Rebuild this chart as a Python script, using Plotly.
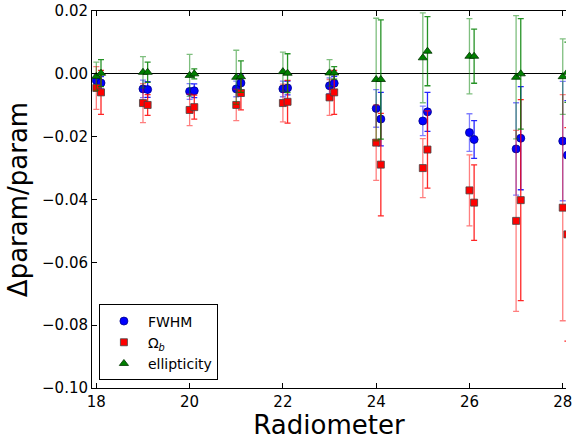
import plotly.graph_objects as go

radiometers = [18, 19, 20, 21, 22, 23, 24, 25, 26, 27, 28]
offset = 0.1

fwhm_main = [-0.0021, -0.0048, -0.0056, -0.0048, -0.0048, -0.0038, -0.0110, -0.0150, -0.0187, -0.0239, -0.0214]
fwhm_main_err = [0.0020, 0.0028, 0.0025, 0.0025, 0.0025, 0.0025, 0.0060, 0.0047, 0.0060, 0.0147, 0.0190]
fwhm_side = [-0.0029, -0.0050, -0.0054, -0.0029, -0.0045, -0.0030, -0.0144, -0.0121, -0.0209, -0.0205, -0.0259]
fwhm_side_err = [0.0020, 0.0025, 0.0022, 0.0025, 0.0022, 0.0022, 0.0085, 0.0062, 0.0060, 0.0164, 0.0174]

omega_main = [-0.0045, -0.0093, -0.0115, -0.0099, -0.0093, -0.0075, -0.0219, -0.0300, -0.0371, -0.0468, -0.0426]
omega_main_err = [0.0068, 0.0062, 0.0050, 0.0050, 0.0060, 0.0057, 0.0120, 0.0094, 0.0113, 0.0288, 0.0360]
omega_side = [-0.0059, -0.0099, -0.0106, -0.0061, -0.0089, -0.0059, -0.0289, -0.0241, -0.0410, -0.0402, -0.0511]
omega_side_err = [0.0070, 0.0033, 0.0038, 0.0054, 0.0068, 0.0070, 0.0163, 0.0123, 0.0120, 0.0320, 0.0340]

ell_main = [-0.0008, 0.0005, -0.0005, -0.0011, 0.0007, 0.0003, -0.0018, 0.0051, 0.0056, -0.0011, -0.0009]
ell_main_err = [0.0045, 0.0050, 0.0067, 0.0086, 0.0062, 0.0042, 0.0195, 0.0143, 0.0120, 0.0196, 0.0120]
ell_side = [0.0002, 0.0005, 0.0000, -0.0009, 0.0002, 0.0003, -0.0018, 0.0072, 0.0056, 0.0000, 0.0005]
ell_side_err = [0.0043, 0.0032, 0.0016, 0.0050, 0.0062, 0.0020, 0.0190, 0.0110, 0.0086, 0.0176, 0.0096]

x_main = radiometers
x_side = [r + offset for r in radiometers]

series = [
    ("FWHM", "circle", "#0000ff", "#00008b", 8, (0, 0, 255),
     fwhm_main, fwhm_main_err, fwhm_side, fwhm_side_err),
    ("Ω<sub><i>b</i></sub>", "square", "#ff0000", "#444444", 7, (255, 0, 0),
     omega_main, omega_main_err, omega_side, omega_side_err),
    ("ellipticity", "triangle-up", "#007f00", "#003300", 8, (0, 128, 0),
     ell_main, ell_main_err, ell_side, ell_side_err),
]

fig = go.Figure()
for name, sym, col, edge, size, rgb, ym, em, ys, es in series:
    for xs, yv, ev, alpha, show in [(x_main, ym, em, 0.5, True), (x_side, ys, es, 0.85, False)]:
        fig.add_trace(go.Scatter(
            x=xs, y=yv, mode="markers", name=name, showlegend=show,
            marker=dict(symbol=sym, color=col, size=size, line=dict(color=edge, width=0.8)),
            error_y=dict(type="data", array=ev, visible=True, thickness=1.3, width=3,
                         color="rgba(%d,%d,%d,%.2f)" % (rgb + (alpha,))),
        ))

fig.update_layout(
    width=572, height=440,
    margin=dict(l=92, r=0, t=11, b=52),
    paper_bgcolor="white", plot_bgcolor="white",
    font=dict(family="DejaVu Sans", size=15, color="black"),
    legend=dict(x=0.0146, y=0.02, xanchor="left", yanchor="bottom",
                bordercolor="black", borderwidth=1, bgcolor="white",
                font=dict(size=14), itemwidth=38, tracegroupgap=0),
    xaxis=dict(range=[17.907, 28.07], tickvals=[18, 20, 22, 24, 26, 28],
               ticks="inside", ticklen=5, tickcolor="black", showline=True,
               linecolor="black", linewidth=1, mirror="ticks", showgrid=False,
               zeroline=False, tickfont=dict(size=15), ticklabeloverflow="allow",
               title=dict(text="Radiometer", font=dict(size=26), standoff=5)),
    yaxis=dict(range=[-0.10, 0.02], tickvals=[0.02, 0.0, -0.02, -0.04, -0.06, -0.08, -0.10],
               tickformat=".2f", ticks="inside", ticklen=5, tickcolor="black",
               showline=True, linecolor="black", linewidth=1, mirror=False,
               showgrid=False, zeroline=True, zerolinecolor="black", zerolinewidth=1,
               tickfont=dict(size=15), ticklabeloverflow="allow",
               title=dict(text="Δparam/param", font=dict(size=26), standoff=6)),
)

fig.write_html("out.html")
